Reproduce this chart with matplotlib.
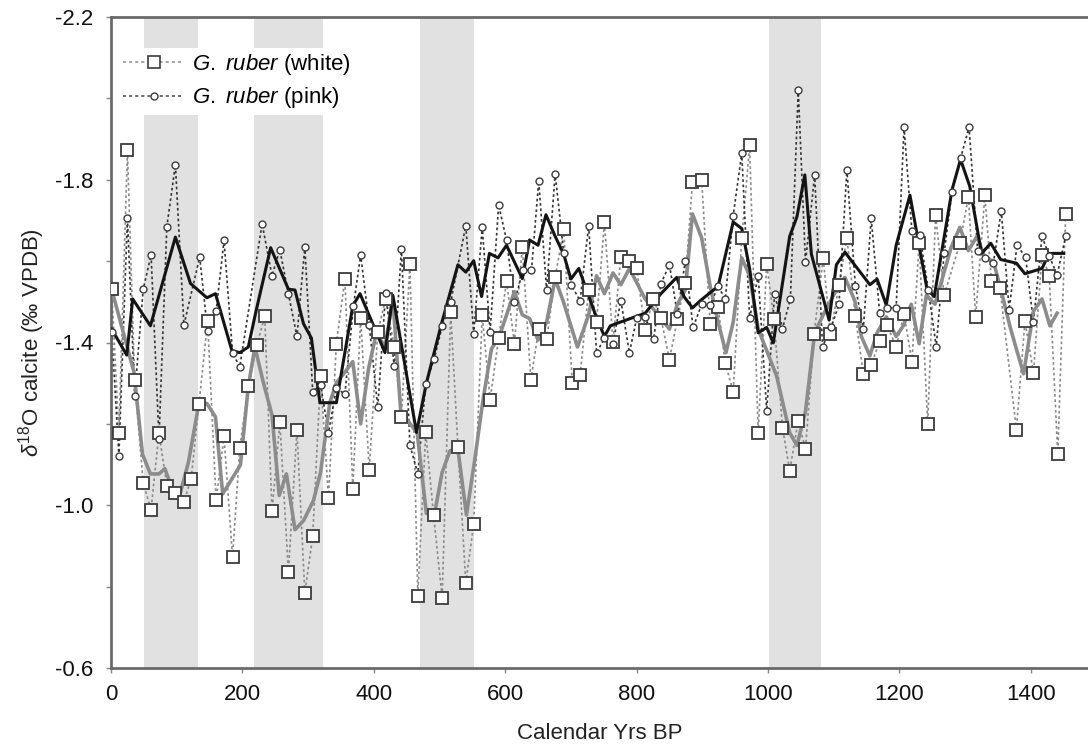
import matplotlib
matplotlib.use("Agg")
import matplotlib.pyplot as plt
from matplotlib.lines import Line2D

plt.rcParams['font.family'] = ['Liberation Sans', 'DejaVu Sans']
plt.rcParams['mathtext.fontset'] = 'custom'
plt.rcParams['mathtext.rm'] = 'Liberation Sans'
plt.rcParams['mathtext.it'] = 'Liberation Sans:italic'

# ---------------- data ----------------
white_x = [1, 12, 25, 36, 49, 61, 73, 85, 98, 111, 122, 134, 147, 160, 172, 185, 196, 209,
           222, 234, 245, 257, 270, 283, 295, 307, 319, 331, 343, 356, 368, 380, 393, 406,
           418, 431, 442, 455, 467, 479, 491, 504, 517, 528, 540, 552, 565, 577, 590, 602,
           614, 626, 639, 651, 663, 676, 689, 702, 714, 727, 739, 751, 764, 776, 789, 800,
           813, 825, 837, 850, 862, 874, 885, 899, 912, 924, 935, 947, 960, 972, 985, 998,
           1009, 1022, 1033, 1046, 1057, 1070, 1084, 1095, 1108, 1120, 1133, 1145, 1157,
           1170, 1181, 1195, 1207, 1219, 1230, 1243, 1255, 1268, 1292, 1305, 1316, 1330,
           1340, 1353, 1378, 1391, 1404, 1417, 1428, 1441, 1453]
white_y = [-1.531, -1.178, -1.872, -1.307, -1.055, -0.989, -1.178, -1.048, -1.031, -1.009,
           -1.065, -1.250, -1.452, -1.012, -1.169, -0.872, -1.141, -1.292, -1.394, -1.464,
           -0.985, -1.204, -0.835, -1.184, -0.784, -0.924, -1.318, -1.019, -1.397, -1.557,
           -1.041, -1.461, -1.087, -1.426, -1.507, -1.390, -1.217, -1.593, -0.778, -1.179,
           -0.975, -0.773, -1.475, -1.144, -0.810, -0.953, -1.468, -1.259, -1.411, -1.551,
           -1.397, -1.635, -1.308, -1.433, -1.408, -1.560, -1.679, -1.301, -1.320, -1.528,
           -1.450, -1.696, -1.401, -1.610, -1.600, -1.582, -1.431, -1.507, -1.460, -1.358,
           -1.457, -1.547, -1.795, -1.800, -1.446, -1.487, -1.349, -1.279, -1.657, -1.885,
           -1.178, -1.593, -1.457, -1.191, -1.085, -1.208, -1.138, -1.420, -1.608, -1.420,
           -1.542, -1.657, -1.465, -1.323, -1.345, -1.404, -1.443, -1.390, -1.470, -1.353,
           -1.645, -1.200, -1.714, -1.516, -1.644, -1.758, -1.463, -1.762, -1.551, -1.534,
           -1.186, -1.452, -1.325, -1.615, -1.564, -1.125, -1.716]

pink_x = [1, 12, 25, 36, 49, 61, 73, 85, 98, 111, 135, 147, 160, 172, 185, 196, 230, 245,
          257, 270, 283, 295, 307, 319, 331, 343, 356, 369, 380, 393, 406, 418, 431, 442,
          455, 467, 479, 492, 504, 517, 540, 552, 565, 577, 590, 602, 614, 627, 640, 651,
          663, 676, 689, 700, 714, 727, 739, 751, 764, 776, 789, 800, 813, 826, 837, 850,
          862, 874, 886, 899, 912, 924, 935, 947, 960, 972, 985, 998, 1010, 1022, 1034,
          1046, 1057, 1071, 1083, 1096, 1108, 1120, 1133, 1145, 1157, 1170, 1181, 1195,
          1207, 1219, 1231, 1244, 1256, 1268, 1280, 1293, 1306, 1319, 1330, 1343, 1355,
          1367, 1379, 1392, 1404, 1417, 1428, 1440, 1453]
pink_y = [-1.426, -1.122, -1.707, -1.269, -1.531, -1.615, -1.164, -1.685, -1.837, -1.443,
          -1.610, -1.428, -1.477, -1.651, -1.375, -1.340, -1.692, -1.564, -1.628, -1.520,
          -1.415, -1.635, -1.279, -1.296, -1.178, -1.288, -1.273, -1.490, -1.615, -1.443,
          -1.241, -1.522, -1.343, -1.630, -1.147, -1.078, -1.299, -1.360, -1.440, -1.499,
          -1.687, -1.422, -1.683, -1.426, -1.738, -1.652, -1.499, -1.578, -1.578, -1.797,
          -1.528, -1.815, -1.621, -1.542, -1.503, -1.687, -1.375, -1.410, -1.397, -1.503,
          -1.375, -1.459, -1.463, -1.408, -1.545, -1.591, -1.470, -1.600, -1.437, -1.494,
          -1.492, -1.538, -1.507, -1.712, -1.865, -1.460, -1.564, -1.232, -1.520, -1.434,
          -1.507, -2.021, -1.597, -1.812, -1.390, -1.437, -1.494, -1.824, -1.538, -1.433,
          -1.705, -1.472, -1.485, -1.485, -1.929, -1.674, -1.665, -1.529, -1.390, -1.619,
          -1.771, -1.853, -1.929, -1.626, -1.608, -1.595, -1.724, -1.481, -1.639, -1.610,
          -1.450, -1.661, -1.613, -1.566, -1.661]

white_smooth_x = [1, 35, 48, 60, 73, 82, 93, 106, 118, 134, 146, 159, 170, 197, 209, 219,
                  232, 245, 256, 267, 280, 293, 308, 319, 333, 343, 356, 368, 380, 392, 404,
                  417, 429, 441, 466, 480, 493, 504, 516, 528, 541, 554, 566, 579, 591, 614,
                  626, 637, 650, 663, 676, 688, 710, 727, 739, 751, 764, 776, 789, 813, 837,
                  850, 862, 874, 885, 899, 912, 924, 936, 947, 960, 972, 985, 998, 1013,
                  1033, 1044, 1057, 1071, 1084, 1104, 1117, 1132, 1142, 1155, 1166, 1180,
                  1195, 1206, 1218, 1230, 1241, 1254, 1268, 1279, 1292, 1305, 1318, 1330,
                  1343, 1356, 1368, 1378, 1389, 1404, 1417, 1429, 1440]
white_smooth_y = [-1.531, -1.327, -1.125, -1.077, -1.077, -1.090, -1.041, -1.033, -1.107,
                  -1.252, -1.250, -1.217, -1.028, -1.099, -1.292, -1.389, -1.301, -1.222,
                  -1.024, -1.077, -0.940, -0.962, -1.011, -1.081, -1.252, -1.301, -1.327,
                  -1.353, -1.200, -1.336, -1.424, -1.389, -1.507, -1.230, -1.178, -0.980,
                  -0.984, -1.081, -1.134, -1.138, -0.976, -1.116, -1.257, -1.384, -1.415,
                  -1.525, -1.468, -1.459, -1.406, -1.450, -1.556, -1.503, -1.389, -1.468,
                  -1.564, -1.520, -1.571, -1.542, -1.582, -1.507, -1.459, -1.433, -1.494,
                  -1.529, -1.716, -1.657, -1.538, -1.450, -1.375, -1.450, -1.608, -1.564,
                  -1.433, -1.380, -1.318, -1.178, -1.147, -1.230, -1.424, -1.468, -1.529,
                  -1.560, -1.503, -1.415, -1.367, -1.424, -1.463, -1.415, -1.441, -1.494,
                  -1.397, -1.516, -1.494, -1.573, -1.635, -1.683, -1.626, -1.661, -1.608,
                  -1.600, -1.520, -1.441, -1.384, -1.323, -1.477, -1.507, -1.441, -1.472]

pink_smooth_x = [1, 24, 33, 60, 98, 121, 146, 159, 184, 196, 209, 220, 243, 270, 280, 293,
                 305, 318, 343, 368, 379, 417, 429, 465, 480, 503, 528, 540, 552, 564, 576,
                 589, 602, 626, 637, 650, 662, 676, 689, 700, 712, 739, 751, 760, 775, 813,
                 837, 861, 872, 885, 897, 924, 947, 960, 972, 985, 998, 1008, 1033, 1044,
                 1056, 1066, 1093, 1104, 1117, 1155, 1166, 1180, 1195, 1216, 1242, 1253,
                 1280, 1293, 1307, 1325, 1339, 1354, 1378, 1391, 1417, 1428, 1450]
pink_smooth_y = [-1.433, -1.369, -1.507, -1.441, -1.659, -1.545, -1.510, -1.520, -1.380,
                 -1.375, -1.389, -1.472, -1.633, -1.531, -1.529, -1.446, -1.411, -1.252,
                 -1.252, -1.490, -1.520, -1.375, -1.516, -1.179, -1.300, -1.446, -1.591,
                 -1.573, -1.601, -1.513, -1.619, -1.608, -1.639, -1.557, -1.652, -1.639,
                 -1.714, -1.661, -1.617, -1.556, -1.582, -1.461, -1.415, -1.441, -1.450,
                 -1.472, -1.520, -1.560, -1.513, -1.485, -1.503, -1.538, -1.696, -1.680,
                 -1.582, -1.424, -1.437, -1.399, -1.661, -1.709, -1.812, -1.617, -1.455,
                 -1.591, -1.622, -1.542, -1.556, -1.492, -1.639, -1.762, -1.531, -1.513,
                 -1.775, -1.850, -1.784, -1.619, -1.644, -1.604, -1.595, -1.569, -1.582,
                 -1.619, -1.619]

band_start = [50, 218, 470, 1002]
band_end = [132, 322, 553, 1080]

x_ticks = [0, 200, 400, 600, 800, 1000, 1200, 1400]
y_major = [-2.2, -1.8, -1.4, -1.0, -0.6]
y_minor = [-2.0, -1.6, -1.2, -0.8]

FS = 16

# ---------------- figure ----------------
fig = plt.figure(figsize=(10.88, 7.48), dpi=100)
ax = fig.add_axes([111 / 1088, 1 - 668 / 748, 1 - 111 / 1088, (668 - 17) / 748])

for s, e in zip(band_start, band_end):
    ax.axvspan(s, e, color='#e1e1e1', lw=0, zorder=0)

ax.plot(white_x, white_y, ls=(0, (1.6, 1.6)), color='#8a8a8a', lw=1.2, zorder=2)
ax.plot(pink_x, pink_y, ls=(0, (1.6, 1.6)), color='#333333', lw=1.2, zorder=2)
ax.plot(white_smooth_x, white_smooth_y, color='#8c8c8c', lw=2.6, zorder=3,
        solid_joinstyle='round')
ax.plot(pink_smooth_x, pink_smooth_y, color='#141414', lw=2.2, zorder=4,
        solid_joinstyle='round')
ax.plot(white_x, white_y, ls='none', marker='s', ms=9, mfc='white', mec='#3c3c3c',
        mew=1.3, zorder=5)
ax.plot(pink_x, pink_y, ls='none', marker='o', ms=5, mfc='white', mec='#3c3c3c',
        mew=1.0, zorder=6)

ax.set_xlim(0, 1487)
ax.set_ylim(-0.6, -2.2)
ax.set_xticks(x_ticks)
ax.set_yticks(y_major)
ax.set_yticks(y_minor, minor=True)
ax.set_yticklabels(['-2.2', '-1.8', '-1.4', '-1.0', '-0.6'])
ax.tick_params(axis='both', which='both', direction='out', length=3.5, width=1.0,
               color='#888888', labelsize=FS, labelcolor='#111111')
ax.tick_params(axis='x', pad=8)
ax.tick_params(axis='y', pad=9)

for side in ['left', 'top', 'bottom']:
    ax.spines[side].set_color('#6a6a6a')
    ax.spines[side].set_linewidth(2.0)
ax.spines['right'].set_visible(False)

ax.set_xlabel('Calendar Yrs BP', fontsize=FS, color='#222222', labelpad=13)
ax.set_ylabel(r'$\delta^{18}$O calcite (‰ VPDB)', fontsize=FS, color='#222222',
              labelpad=6)

h1 = Line2D([], [], ls=(0, (2, 2)), color='#8a8a8a', lw=1.1, marker='s', ms=9,
            mfc='white', mec='#3c3c3c', mew=1.2)
h2 = Line2D([], [], ls=(0, (2, 2)), color='#444444', lw=1.1, marker='o', ms=5,
            mfc='white', mec='#3c3c3c', mew=1.0)
leg = ax.legend([h1, h2], [r'$\it{G.\ ruber}$ (white)', r'$\it{G.\ ruber}$ (pink)'],
                loc='upper left', bbox_to_anchor=(0.008, 0.953), borderaxespad=0,
                frameon=True, facecolor='white', edgecolor='none', framealpha=1,
                fancybox=False, fontsize=FS, handlelength=2.75, handletextpad=0.35,
                labelspacing=0.38, borderpad=0.2)
leg.set_zorder(10)

fig.savefig('out.png', dpi=100)
